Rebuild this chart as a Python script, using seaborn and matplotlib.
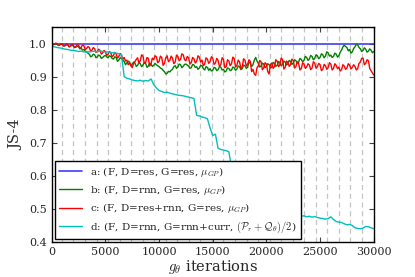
import numpy as np
import pandas as pd
import seaborn as sns
import matplotlib.pyplot as plt

iters_bc = list(range(0, 30001, 125))
iters_d = list(range(0, 30001, 250))

js_a_iters = [0, 30000]
js_a = [1.0, 1.0]

js_b = [
    1.000, 0.997, 0.999, 1.000, 0.998, 0.995, 0.996, 0.998, 0.997, 0.993, 0.994, 0.996, 0.995, 0.990, 0.992, 0.995, 0.993, 0.988, 0.989, 0.992,
    0.990, 0.984, 0.986, 0.980, 0.982, 0.977, 0.975, 0.971, 0.968, 0.960, 0.962, 0.968, 0.966, 0.957, 0.960, 0.965, 0.963, 0.955, 0.958, 0.962,
    0.964, 0.960, 0.957, 0.963, 0.961, 0.955, 0.953, 0.960, 0.958, 0.946, 0.950, 0.957, 0.955, 0.949, 0.946, 0.936, 0.941, 0.947, 0.944, 0.933,
    0.937, 0.944, 0.941, 0.931, 0.934, 0.942, 0.939, 0.930, 0.935, 0.943, 0.940, 0.928, 0.932, 0.941, 0.938, 0.931, 0.934, 0.940, 0.936, 0.933,
    0.930, 0.926, 0.924, 0.919, 0.915, 0.908, 0.910, 0.916, 0.914, 0.919, 0.922, 0.930, 0.933, 0.925, 0.929, 0.938, 0.936, 0.927, 0.931, 0.937,
    0.938, 0.935, 0.932, 0.925, 0.927, 0.937, 0.935, 0.928, 0.930, 0.922, 0.926, 0.934, 0.933, 0.924, 0.920, 0.930, 0.928, 0.919, 0.924, 0.917,
    0.919, 0.928, 0.926, 0.918, 0.921, 0.930, 0.929, 0.920, 0.922, 0.914, 0.917, 0.926, 0.925, 0.918, 0.920, 0.929, 0.927, 0.919, 0.923, 0.932,
    0.930, 0.921, 0.924, 0.935, 0.933, 0.925, 0.928, 0.944, 0.941, 0.931, 0.936, 0.950, 0.958, 0.947, 0.940, 0.929, 0.932, 0.941, 0.938, 0.927,
    0.931, 0.939, 0.936, 0.926, 0.929, 0.943, 0.940, 0.931, 0.934, 0.946, 0.942, 0.933, 0.937, 0.947, 0.944, 0.935, 0.939, 0.949, 0.946, 0.937,
    0.941, 0.951, 0.948, 0.940, 0.944, 0.955, 0.952, 0.945, 0.949, 0.961, 0.958, 0.949, 0.953, 0.964, 0.961, 0.951, 0.955, 0.966, 0.963, 0.954,
    0.958, 0.969, 0.966, 0.957, 0.962, 0.975, 0.972, 0.962, 0.965, 0.958, 0.961, 0.971, 0.968, 0.959, 0.963, 0.974, 0.980, 0.990, 0.995, 0.991,
    0.988, 0.978, 0.982, 0.971, 0.975, 0.985, 0.990, 0.998, 0.996, 0.988, 0.984, 0.976, 0.979, 0.987, 0.983, 0.974, 0.977, 0.984, 0.980, 0.972,
    0.976,
]

js_c = [
    1.000, 0.996, 0.998, 1.001, 1.000, 0.994, 0.996, 1.000, 0.999, 0.992, 0.994, 0.999, 0.997, 0.990, 0.993, 0.998, 0.996, 0.988, 0.991, 0.997,
    0.995, 0.986, 0.989, 0.996, 0.993, 0.982, 0.985, 0.991, 0.988, 0.977, 0.980, 0.988, 0.984, 0.973, 0.976, 0.983, 0.979, 0.968, 0.972, 0.979,
    0.975, 0.964, 0.968, 0.976, 0.972, 0.960, 0.964, 0.973, 0.969, 0.956, 0.961, 0.970, 0.966, 0.952, 0.958, 0.947, 0.950, 0.936, 0.942, 0.934,
    0.927, 0.939, 0.945, 0.952, 0.957, 0.941, 0.948, 0.966, 0.962, 0.940, 0.943, 0.958, 0.955, 0.932, 0.938, 0.956, 0.951, 0.963, 0.960, 0.942,
    0.946, 0.962, 0.958, 0.934, 0.940, 0.957, 0.963, 0.945, 0.949, 0.962, 0.956, 0.939, 0.944, 0.965, 0.961, 0.948, 0.952, 0.969, 0.966, 0.951,
    0.948, 0.961, 0.957, 0.938, 0.942, 0.958, 0.954, 0.941, 0.946, 0.963, 0.959, 0.944, 0.950, 0.933, 0.938, 0.957, 0.953, 0.940, 0.945, 0.960,
    0.956, 0.937, 0.941, 0.955, 0.949, 0.931, 0.936, 0.957, 0.952, 0.927, 0.930, 0.951, 0.947, 0.933, 0.939, 0.959, 0.955, 0.929, 0.934, 0.950,
    0.944, 0.925, 0.929, 0.954, 0.950, 0.932, 0.937, 0.951, 0.946, 0.915, 0.922, 0.908, 0.904, 0.927, 0.933, 0.949, 0.945, 0.921, 0.926, 0.942,
    0.938, 0.915, 0.908, 0.936, 0.941, 0.925, 0.930, 0.951, 0.947, 0.930, 0.935, 0.956, 0.952, 0.923, 0.928, 0.947, 0.943, 0.931, 0.936, 0.953,
    0.949, 0.926, 0.931, 0.945, 0.940, 0.920, 0.924, 0.942, 0.938, 0.925, 0.929, 0.939, 0.935, 0.921, 0.926, 0.945, 0.941, 0.925, 0.930, 0.940,
    0.936, 0.918, 0.922, 0.937, 0.933, 0.922, 0.927, 0.942, 0.938, 0.920, 0.925, 0.939, 0.934, 0.924, 0.929, 0.917, 0.921, 0.936, 0.932, 0.922,
    0.926, 0.939, 0.935, 0.923, 0.928, 0.936, 0.931, 0.920, 0.924, 0.940, 0.944, 0.955, 0.956, 0.936, 0.940, 0.951, 0.948, 0.925, 0.918, 0.911,
    0.905,
]

js_d = [
    0.991, 0.990, 0.988, 0.987, 0.985, 0.983, 0.982, 0.980, 0.979, 0.978,
    0.976, 0.977, 0.975, 0.974, 0.975, 0.976, 0.977, 0.975, 0.978, 0.976,
    0.974, 0.975, 0.973, 0.972, 0.971, 0.969, 0.966, 0.900, 0.895, 0.893,
    0.890, 0.888, 0.887, 0.889, 0.886, 0.888, 0.887, 0.893, 0.876, 0.866,
    0.858, 0.855, 0.852, 0.853, 0.850, 0.848, 0.846, 0.844, 0.843, 0.842,
    0.840, 0.838, 0.836, 0.834, 0.783, 0.781, 0.778, 0.776, 0.773, 0.745,
    0.722, 0.726, 0.683, 0.680, 0.678, 0.676, 0.673, 0.625, 0.620, 0.617,
    0.614, 0.612, 0.575, 0.572, 0.570, 0.567, 0.565, 0.540, 0.537, 0.535,
    0.533, 0.530, 0.528, 0.505, 0.502, 0.500, 0.498, 0.496, 0.494, 0.492,
    0.490, 0.486, 0.480, 0.478, 0.479, 0.476, 0.478, 0.475, 0.477, 0.474,
    0.472, 0.471, 0.469, 0.471, 0.476, 0.468, 0.462, 0.460, 0.459, 0.455,
    0.452, 0.453, 0.450, 0.443, 0.441, 0.440, 0.442, 0.447, 0.446, 0.443,
    0.440,
]

labels = [
    r'a: (F, D=res, G=res, $\mu_{GP}$)',
    r'b: (F, D=rnn, G=res, $\mu_{GP}$)',
    r'c: (F, D=res+rnn, G=res, $\mu_{GP}$)',
    r'd: (F, D=rnn, G=rnn+curr, $(\mathcal{P}_r+\mathcal{Q}_\theta)/2$)',
]
colors = ['#3c3cff', 'green', 'red', '#00bfbf']

# epoch boundaries drawn as dashed vertical lines
epoch_marks = [950 + 1075 * k for k in range(27)]

sns.set_style('ticks')
plt.rcParams['font.family'] = ['DejaVu Serif']
plt.rcParams['mathtext.fontset'] = 'cm'
plt.rcParams['xtick.direction'] = 'in'
plt.rcParams['ytick.direction'] = 'in'

fig = plt.figure(figsize=(4.15, 2.77), dpi=100)
ax = fig.add_axes([0.1246, 0.1264, 0.776, 0.7761])

for xm in epoch_marks:
    ax.axvline(xm, color='#c4c4c4', lw=0.9, ls=(0, (4, 3)), zorder=0)

df_a = pd.DataFrame({'iter': js_a_iters, 'js': js_a})
df_bc = pd.DataFrame({'iter': iters_bc, 'b': js_b, 'c': js_c})
df_d = pd.DataFrame({'iter': iters_d, 'd': js_d})

sns.lineplot(data=df_a, x='iter', y='js', ax=ax, color=colors[0], lw=1.2, label=labels[0])
sns.lineplot(data=df_bc, x='iter', y='b', ax=ax, color=colors[1], lw=1.0, label=labels[1])
sns.lineplot(data=df_bc, x='iter', y='c', ax=ax, color=colors[2], lw=1.0, label=labels[2])
sns.lineplot(data=df_d, x='iter', y='d', ax=ax, color=colors[3], lw=1.0, label=labels[3])

ax.set_xlim(0, 30000)
ax.set_ylim(0.4, 1.05)
ax.set_xticks(range(0, 30001, 5000))
ax.set_yticks([0.4, 0.5, 0.6, 0.7, 0.8, 0.9, 1.0])
ax.tick_params(axis='both', which='major', labelsize=8, length=3.5, width=0.8,
               top=True, right=True, color='#444444')
for sp in ax.spines.values():
    sp.set_color('black')
    sp.set_linewidth(1.0)

ax.set_xlabel(r'$g_\theta$ iterations', fontsize=10.5, labelpad=1)
ax.set_ylabel('JS-4', fontsize=10.5, labelpad=4)

leg = ax.legend(loc='lower left', fontsize=7.5, frameon=True, fancybox=False,
                framealpha=1, borderaxespad=0.3, handlelength=2.2,
                labelspacing=0.4, bbox_to_anchor=(0.0, 0.0))
leg.get_frame().set_edgecolor('black')
leg.get_frame().set_linewidth(1.0)

plt.savefig('out.png', dpi=100)
